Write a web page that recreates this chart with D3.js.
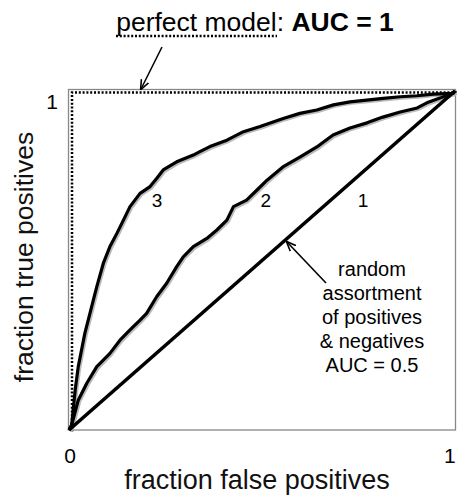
<!DOCTYPE html>
<html>
<head>
<meta charset="utf-8">
<script src="https://cdn.jsdelivr.net/npm/d3@7"></script>
<style>
  body { margin: 0; background: #fff; }
  svg { font-family: "Liberation Sans", Arial, sans-serif; }
</style>
</head>
<body>
<svg id="chart" width="457" height="500"></svg>
<script>
// ROC curves (fraction false positives, fraction true positives)
const curve3 = [
    [0, 0], [0.007, 0.015], [0.016, 0.118], [0.024, 0.187], [0.041, 0.285], [0.063, 0.383],
    [0.072, 0.423], [0.089, 0.492], [0.106, 0.541], [0.124, 0.580], [0.141, 0.619],
    [0.158, 0.659], [0.184, 0.698], [0.210, 0.718], [0.227, 0.742], [0.244, 0.767],
    [0.279, 0.791], [0.322, 0.811], [0.339, 0.821], [0.365, 0.836], [0.409, 0.855],
    [0.452, 0.880], [0.495, 0.895], [0.555, 0.919], [0.598, 0.934], [0.642, 0.944],
    [0.685, 0.959], [0.728, 0.968], [0.771, 0.973], [0.814, 0.978], [0.858, 0.983],
    [0.901, 0.986], [0.944, 0.991], [0.995, 0.993], [1, 1]
];
const curve2 = [
    [0, 0], [0.007, 0.015], [0.024, 0.088], [0.046, 0.138], [0.072, 0.187], [0.106, 0.226],
    [0.132, 0.265], [0.158, 0.295], [0.184, 0.324], [0.201, 0.344], [0.227, 0.393],
    [0.253, 0.433], [0.279, 0.482], [0.296, 0.511], [0.322, 0.541], [0.357, 0.565],
    [0.383, 0.590], [0.409, 0.619], [0.426, 0.659], [0.460, 0.678], [0.487, 0.708],
    [0.513, 0.737], [0.554, 0.776], [0.598, 0.805], [0.642, 0.835], [0.684, 0.870],
    [0.728, 0.891], [0.772, 0.906], [0.813, 0.923], [0.858, 0.938], [0.902, 0.950],
    [0.927, 0.965], [0.961, 0.979], [0.995, 0.994], [1, 1]
];
const curve1 = [[0, 0], [1, 1]];
const perfect = [[0, 0], [0, 1], [1, 1]];

const curveLabels = [
    { text: "3", x: 0.228, y: 0.659 },
    { text: "2", x: 0.510, y: 0.659 },
    { text: "1", x: 0.762, y: 0.659 }
];
const xTicks = [0, 1];
const yTicks = [1];
const noteLines = ["random", "assortment", "of positives", "& negatives", "AUC = 0.5"];

const svg = d3.select("#chart");
const plotLeft = 69, plotRight = 455, plotTop = 91, plotBottom = 430;

const x = d3.scaleLinear().domain([0, 1]).range([plotLeft, plotRight]);
const y = d3.scaleLinear().domain([0, 1]).range([plotBottom, plotTop]);

svg.append("defs").append("marker")
    .attr("id", "arrow")
    .attr("viewBox", "0 0 10 10")
    .attr("refX", 9).attr("refY", 5)
    .attr("markerWidth", 10).attr("markerHeight", 10)
    .attr("markerUnits", "userSpaceOnUse")
    .attr("orient", "auto")
    .append("path")
    .attr("d", "M0,1 L10,5 L0,9")
    .attr("fill", "none")
    .attr("stroke", "#000")
    .attr("stroke-width", 1.6);

// frame
svg.append("rect")
    .attr("x", plotLeft - 0.5).attr("y", plotTop - 1.5)
    .attr("width", plotRight - plotLeft + 1).attr("height", plotBottom - plotTop + 1.5)
    .attr("fill", "none")
    .attr("stroke", "#888")
    .attr("stroke-width", 1.3);

const line = d3.line().x(d => x(d[0])).y(d => y(d[1]));

// perfect model, dotted, just inside the frame
svg.append("path")
    .datum(perfect)
    .attr("d", d3.line().x(d => x(d[0]) + 3).y(d => y(d[1]) + 1.5))
    .attr("fill", "none")
    .attr("stroke", "#000")
    .attr("stroke-width", 2.5)
    .attr("stroke-dasharray", "2,1.8");

// gray shadow under each curve
[curve3, curve2].forEach(c => {
    svg.append("path")
        .datum(c)
        .attr("d", line)
        .attr("transform", "translate(1.5,1.5)")
        .attr("fill", "none")
        .attr("stroke", "#bbb")
        .attr("stroke-width", 3);
});

[curve3, curve2, curve1].forEach((c, i) => {
    svg.append("path")
        .datum(c)
        .attr("d", line)
        .attr("fill", "none")
        .attr("stroke", "#000")
        .attr("stroke-width", i === 2 ? 3.6 : 3.2)
        .attr("stroke-linejoin", "round");
});

svg.selectAll(".clabel")
    .data(curveLabels)
    .enter()
    .append("text")
    .attr("class", "clabel")
    .attr("x", d => x(d.x))
    .attr("y", d => y(d.y))
    .attr("text-anchor", "middle")
    .attr("font-size", 19)
    .text(d => d.text);

// tick labels
svg.selectAll(".xt")
    .data(xTicks)
    .enter()
    .append("text")
    .attr("x", d => d === 0 ? x(d) + 1 : x(d) - 11)
    .attr("y", 463)
    .attr("text-anchor", d => d === 0 ? "middle" : "start")
    .attr("font-size", 21)
    .text(d => d);

svg.selectAll(".yt")
    .data(yTicks)
    .enter()
    .append("text")
    .attr("x", 52)
    .attr("y", y(1) + 18)
    .attr("text-anchor", "middle")
    .attr("font-size", 21)
    .text(d => d);

// axis titles
svg.append("text")
    .attr("x", 257).attr("y", 489)
    .attr("text-anchor", "middle")
    .attr("font-size", 27)
    .attr("fill", "#111")
    .text("fraction false positives");

svg.append("text")
    .attr("transform", "translate(33,257) rotate(-90)")
    .attr("text-anchor", "middle")
    .attr("font-size", 26.5)
    .attr("fill", "#111")
    .text("fraction true positives");

// title
const title = svg.append("text")
    .attr("x", 255).attr("y", 31)
    .attr("text-anchor", "middle")
    .attr("font-size", 26.5);
title.append("tspan").text("perfect model: ");
title.append("tspan").attr("font-weight", "bold").text("AUC = 1");

svg.append("line")
    .attr("x1", 116).attr("x2", 277)
    .attr("y1", 36).attr("y2", 36)
    .attr("stroke", "#000")
    .attr("stroke-width", 2.5)
    .attr("stroke-dasharray", "2,1.8");

// arrows
svg.append("line")
    .attr("x1", 162).attr("y1", 47)
    .attr("x2", 141).attr("y2", 89)
    .attr("stroke", "#000")
    .attr("stroke-width", 1.6)
    .attr("marker-end", "url(#arrow)");

svg.append("line")
    .attr("x1", 326).attr("y1", 283)
    .attr("x2", 287).attr("y2", 242)
    .attr("stroke", "#000")
    .attr("stroke-width", 1.6)
    .attr("marker-end", "url(#arrow)");

svg.selectAll(".note")
    .data(noteLines)
    .enter()
    .append("text")
    .attr("x", 372)
    .attr("y", (d, i) => 276 + i * 24)
    .attr("text-anchor", "middle")
    .attr("font-size", 20)
    .text(d => d);
</script>
</body>
</html>
